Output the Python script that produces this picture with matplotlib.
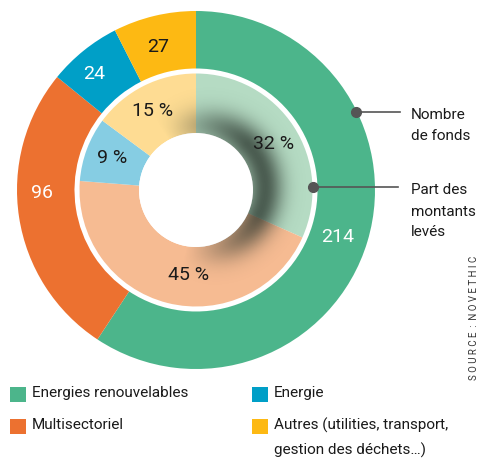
import numpy as np
import matplotlib
matplotlib.use("Agg")
from matplotlib import pyplot as plt
from matplotlib.patches import Circle, Rectangle

# données
categories = ["Energies renouvelables", "Multisectoriel", "Energie",
              "Autres (utilities, transport,", "gestion des déchets…)"]
nb_fonds = [214, 96, 24, 27]
part_montants = [32, 45, 9, 15]

couleurs = ["#4cb58b", "#ec7130", "#009fc7", "#fdb913"]
couleurs_clair = ["#b5dbc3", "#f6bb92", "#86cde3", "#fedc93"]
couleurs_txt = ["white", "white", "white", "#1a1a1a"]

plt.rcParams["font.family"] = ["Roboto", "DejaVu Sans"]

H = 459
fig = plt.figure(figsize=(4.78, 4.59), dpi=100)
ax = fig.add_axes([0, 0, 1, 1])

cx, cy = 196, H - 190
R_out, R_mid, R_in, R_hole = 179, 121.5, 116.5, 57

# anneau extérieur : nombre de fonds
w_out, _ = ax.pie(nb_fonds, colors=couleurs, startangle=90, counterclock=False,
                  center=(cx, cy), radius=R_out, frame=True,
                  wedgeprops=dict(width=R_out - R_mid, linewidth=0))

# anneau intérieur : part des montants levés
w_in, _ = ax.pie(part_montants, colors=couleurs_clair, startangle=90, counterclock=False,
                 center=(cx, cy), radius=R_in, frame=True,
                 wedgeprops=dict(width=R_in - R_hole, linewidth=0))
for w in w_in:
    w.set_zorder(2)

# ombre portée autour du trou
n = 300
xs = np.linspace(cx - R_in, cx + R_in, n)
ys = np.linspace(cy - R_in, cy + R_in, n)
X, Y = np.meshgrid(xs, ys)
sx, sy = cx + 8, cy + 2
d = np.hypot(X - sx, Y - sy)
theta = np.arctan2(Y - sy, X - sx)
f = np.clip(0.35 + 0.8 * np.cos(theta - np.deg2rad(10)), 0, 1)
a = 0.75 * f * np.exp(-((d - R_hole - 5) / 18.0) ** 2)
img = np.zeros((n, n, 4))
img[..., 0] = 0.16
img[..., 1] = 0.2
img[..., 2] = 0.17
img[..., 3] = a
im = ax.imshow(img, extent=(cx - R_in, cx + R_in, cy - R_in, cy + R_in),
               origin="lower", zorder=3, interpolation="bilinear")
im.set_clip_path(Circle((cx, cy), R_in, transform=ax.transData))
ax.add_patch(Circle((cx, cy), R_hole, facecolor="white", edgecolor="none", zorder=4))

ax.set_aspect("equal")
ax.set_xlim(0, 478)
ax.set_ylim(0, H)
ax.axis("off")

# étiquettes
def mid_angles(wedges):
    return [(w.theta1 + w.theta2) / 2 for w in wedges]

off_out = [-1.7, -7.7, 2.3, 1.5]
r_lab_out = [149, 154, 154, 148]
for ang, do, r, v, c in zip(mid_angles(w_out), off_out, r_lab_out, nb_fonds, couleurs_txt):
    t = np.deg2rad(ang + do)
    ax.text(cx + r * np.cos(t), cy + r * np.sin(t), str(v), color=c,
            fontsize=14, ha="center", va="center", zorder=5)

off_in = [-2, 9, 0, 2.3]
r_lab_in = [90, 85, 90, 90]
for ang, do, r, v in zip(mid_angles(w_in), off_in, r_lab_in, part_montants):
    t = np.deg2rad(ang + do)
    ax.text(cx + r * np.cos(t), cy + r * np.sin(t), f"{v} %", color="#1a1a1a",
            fontsize=14, ha="center", va="center", zorder=5)

# repères
grey = "#555555"
ax.plot([356, 400], [H - 112, H - 112], color=grey, lw=1.2, zorder=6)
ax.plot([356], [H - 112], "o", color=grey, ms=7, zorder=6)
ax.plot([313, 398], [H - 187, H - 187], color=grey, lw=1.2, zorder=6)
ax.plot([313], [H - 187], "o", color=grey, ms=7, zorder=6)
for lab, yy in [("Nombre", 115), ("de fonds", 136), ("Part des", 190),
                ("montants", 212), ("levés", 232)]:
    ax.text(411, H - yy, lab, fontsize=11, va="center", ha="left", color="#1a1a1a")

ax.text(474, H - 318, "S O U R C E  :  N O V E T H I C", rotation=90, fontsize=7,
        ha="center", va="center", color="#333333")

# légende
carres = [(10, 394), (10, 426), (252, 394), (252, 426)]
for (lx, ly), c in zip(carres, couleurs):
    ax.add_patch(Rectangle((lx, H - ly - 7.5), 16, 15, facecolor=c, edgecolor="none"))
txt_pos = [(32, 393), (32, 425), (274, 393), (274, 425), (274, 450)]
for (tx, ty), lab in zip(txt_pos, categories):
    ax.text(tx, H - ty, lab, fontsize=11, va="center", ha="left", color="#1a1a1a")

fig.savefig("out.png", dpi=100)
